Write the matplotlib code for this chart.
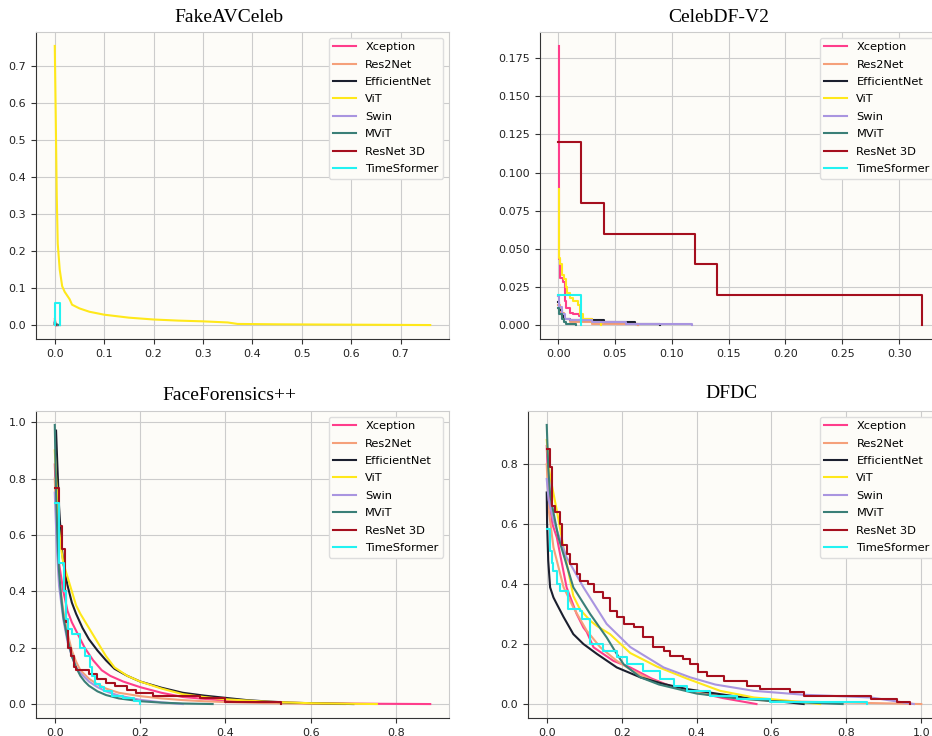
import matplotlib
matplotlib.use("Agg")
import matplotlib.pyplot as plt

models = ["Xception", "Res2Net", "EfficientNet", "ViT", "Swin", "MViT", "ResNet 3D", "TimeSformer"]
colors = ["#FF3D8B", "#F5A07A", "#1B1F2E", "#FFE81A", "#A995E0", "#3A7F77", "#A50F1E", "#22F2F2"]

# ---- FakeAVCeleb
fav_xception_x = [0.0, 0.002, 0.004]
fav_xception_y = [0.010, 0.004, 0.0]
fav_res2net_x = [0.0, 0.002, 0.004]
fav_res2net_y = [0.016, 0.006, 0.0]
fav_effnet_x = [0.0, 0.003, 0.006]
fav_effnet_y = [0.006, 0.002, 0.0]
fav_vit_x = [0.0, 0.002, 0.004, 0.006, 0.01, 0.015, 0.02, 0.03, 0.035, 0.05, 0.07, 0.1, 0.15,
             0.2, 0.25, 0.3, 0.35, 0.37, 0.45, 0.6, 0.76]
fav_vit_y = [0.755, 0.56, 0.35, 0.22, 0.15, 0.105, 0.09, 0.07, 0.055, 0.045, 0.036, 0.028, 0.02,
             0.015, 0.012, 0.01, 0.007, 0.003, 0.002, 0.001, 0.0]
fav_swin_x = [0.0, 0.002, 0.005]
fav_swin_y = [0.008, 0.003, 0.0]
fav_mvit_x = [0.0, 0.004, 0.01]
fav_mvit_y = [0.004, 0.001, 0.0]
fav_r3d_x = [0.0, 0.002]
fav_r3d_y = [0.002, 0.0]
fav_tsf_x = [0.0, 0.0, 0.01, 0.01]
fav_tsf_y = [0.0, 0.06, 0.06, 0.0]

# ---- CelebDF-V2
cdf_xception_x = [0.001, 0.001, 0.002, 0.004, 0.006, 0.007, 0.01, 0.013, 0.018, 0.02, 0.03, 0.05, 0.07]
cdf_xception_y = [0.183, 0.043, 0.031, 0.028, 0.016, 0.011, 0.008, 0.007, 0.006, 0.004, 0.002, 0.001, 0.0]
cdf_res2net_x = [0.0, 0.002, 0.005, 0.01, 0.03, 0.05, 0.07]
cdf_res2net_y = [0.013, 0.008, 0.004, 0.002, 0.001, 0.0005, 0.0]
cdf_effnet_x = [0.0, 0.001, 0.003, 0.005, 0.01, 0.03, 0.04, 0.065, 0.068, 0.09]
cdf_effnet_y = [0.015, 0.01, 0.006, 0.004, 0.003, 0.003, 0.002, 0.002, 0.001, 0.0]
cdf_vit_x = [0.001, 0.001, 0.002, 0.003, 0.005, 0.007, 0.008, 0.01, 0.013, 0.017, 0.019, 0.022, 0.03, 0.038]
cdf_vit_y = [0.089, 0.044, 0.04, 0.033, 0.03, 0.025, 0.021, 0.018, 0.016, 0.013, 0.007, 0.004, 0.002, 0.0]
cdf_swin_x = [0.0, 0.001, 0.003, 0.006, 0.01, 0.03, 0.06, 0.118]
cdf_swin_y = [0.019, 0.012, 0.007, 0.004, 0.003, 0.002, 0.001, 0.0]
cdf_mvit_x = [0.0, 0.001, 0.003, 0.005, 0.007, 0.016]
cdf_mvit_y = [0.011, 0.007, 0.004, 0.002, 0.001, 0.0]
cdf_r3d_x = [0.0, 0.02, 0.04, 0.12, 0.14, 0.32]
cdf_r3d_y = [0.12, 0.08, 0.06, 0.04, 0.02, 0.0]
cdf_tsf_x = [0.0, 0.02]
cdf_tsf_y = [0.02, 0.0]

# ---- FaceForensics++
ffp_xception_x = [0.0, 0.005, 0.01, 0.02, 0.03, 0.04, 0.05, 0.07, 0.09, 0.11, 0.13, 0.16, 0.2,
                  0.25, 0.3, 0.4, 0.5, 0.6, 0.75, 0.88]
ffp_xception_y = [0.85, 0.65, 0.5, 0.4, 0.33, 0.29, 0.26, 0.2, 0.155, 0.12, 0.1, 0.08, 0.06,
                  0.04, 0.025, 0.012, 0.006, 0.003, 0.001, 0.0]
ffp_res2net_x = [0.0, 0.005, 0.01, 0.02, 0.03, 0.04, 0.05, 0.06, 0.08, 0.1, 0.12, 0.15, 0.2,
                 0.25, 0.3, 0.35, 0.4, 0.5, 0.6, 0.68]
ffp_res2net_y = [0.8, 0.6, 0.45, 0.33, 0.25, 0.19, 0.15, 0.12, 0.09, 0.07, 0.055, 0.04, 0.028,
                 0.02, 0.014, 0.01, 0.007, 0.003, 0.001, 0.0]
ffp_effnet_x = [0.003, 0.006, 0.01, 0.015, 0.02, 0.03, 0.04, 0.05, 0.065, 0.08, 0.1, 0.12, 0.14,
                0.17, 0.2, 0.25, 0.3, 0.35, 0.4, 0.45, 0.5, 0.55, 0.6, 0.7]
ffp_effnet_y = [0.97, 0.85, 0.7, 0.58, 0.5, 0.42, 0.36, 0.32, 0.27, 0.23, 0.19, 0.155, 0.125,
                0.1, 0.08, 0.058, 0.04, 0.03, 0.022, 0.014, 0.009, 0.005, 0.003, 0.0]
ffp_vit_x = [0.0, 0.005, 0.01, 0.015, 0.02, 0.03, 0.04, 0.05, 0.06, 0.08, 0.1, 0.12, 0.14, 0.17,
             0.2, 0.25, 0.3, 0.35, 0.4, 0.5, 0.6, 0.7, 0.755]
ffp_vit_y = [0.9, 0.75, 0.62, 0.55, 0.5, 0.45, 0.4, 0.35, 0.32, 0.27, 0.22, 0.17, 0.13, 0.1,
             0.08, 0.055, 0.035, 0.025, 0.017, 0.008, 0.003, 0.001, 0.0]
ffp_swin_x = [0.0, 0.005, 0.01, 0.02, 0.03, 0.04, 0.05, 0.06, 0.08, 0.1, 0.12, 0.15, 0.2, 0.25, 0.3]
ffp_swin_y = [0.75, 0.55, 0.42, 0.3, 0.22, 0.17, 0.13, 0.11, 0.08, 0.06, 0.045, 0.03, 0.015, 0.006, 0.0]
ffp_mvit_x = [0.0, 0.003, 0.006, 0.01, 0.015, 0.02, 0.03, 0.04, 0.05, 0.06, 0.07, 0.08, 0.1,
              0.12, 0.15, 0.2, 0.25, 0.3, 0.37]
ffp_mvit_y = [0.99, 0.75, 0.6, 0.47, 0.38, 0.31, 0.23, 0.17, 0.13, 0.1, 0.08, 0.065, 0.045,
              0.032, 0.02, 0.01, 0.005, 0.002, 0.0]
ffp_r3d_x = [0.0, 0.009, 0.016, 0.023, 0.027, 0.032, 0.038, 0.045, 0.05, 0.08, 0.1, 0.12, 0.14,
             0.17, 0.19, 0.23, 0.34, 0.4, 0.53]
ffp_r3d_y = [0.765, 0.63, 0.55, 0.4, 0.29, 0.2, 0.17, 0.13, 0.12, 0.105, 0.09, 0.075, 0.065,
             0.05, 0.04, 0.03, 0.02, 0.008, 0.0]
ffp_tsf_x = [0.0, 0.009, 0.021, 0.027, 0.032, 0.04, 0.058, 0.07, 0.082, 0.088, 0.095, 0.105,
             0.115, 0.135, 0.16, 0.185, 0.2]
ffp_tsf_y = [0.714, 0.5, 0.4, 0.3, 0.265, 0.25, 0.2, 0.17, 0.13, 0.1, 0.07, 0.06, 0.045, 0.03,
             0.02, 0.01, 0.0]

# ---- DFDC
dfdc_xception_x = [0.0, 0.005, 0.015, 0.027, 0.053, 0.08, 0.098, 0.107, 0.125, 0.178, 0.223,
                   0.28, 0.33, 0.4, 0.47, 0.56]
dfdc_xception_y = [0.86, 0.7, 0.6, 0.555, 0.389, 0.3, 0.255, 0.24, 0.189, 0.144, 0.122, 0.085,
                   0.06, 0.04, 0.02, 0.0]
dfdc_res2net_x = [0.0, 0.005, 0.018, 0.045, 0.071, 0.107, 0.143, 0.187, 0.23, 0.28, 0.33, 0.4,
                  0.5, 0.6, 0.8, 1.0]
dfdc_res2net_y = [0.8, 0.65, 0.522, 0.389, 0.322, 0.244, 0.189, 0.144, 0.11, 0.08, 0.06, 0.04,
                  0.02, 0.01, 0.005, 0.0]
dfdc_effnet_x = [0.0, 0.001, 0.004, 0.009, 0.018, 0.027, 0.045, 0.071, 0.098, 0.134, 0.187, 0.25,
                 0.312, 0.374, 0.463, 0.553, 0.642, 0.686]
dfdc_effnet_y = [0.705, 0.6, 0.478, 0.389, 0.355, 0.333, 0.29, 0.233, 0.2, 0.167, 0.122, 0.089,
                 0.067, 0.05, 0.033, 0.017, 0.006, 0.0]
dfdc_vit_x = [0.0, 0.005, 0.009, 0.027, 0.045, 0.071, 0.089, 0.116, 0.134, 0.169, 0.223, 0.294,
              0.374, 0.463, 0.553, 0.686, 0.73]
dfdc_vit_y = [0.88, 0.8, 0.76, 0.644, 0.52, 0.36, 0.315, 0.278, 0.26, 0.233, 0.17, 0.125, 0.085,
              0.044, 0.022, 0.006, 0.0]
dfdc_swin_x = [0.0, 0.005, 0.018, 0.053, 0.098, 0.16, 0.223, 0.312, 0.383, 0.45, 0.553, 0.686,
               0.865, 0.98]
dfdc_swin_y = [0.75, 0.68, 0.611, 0.489, 0.389, 0.267, 0.19, 0.122, 0.089, 0.065, 0.044, 0.031,
               0.022, 0.0]
dfdc_mvit_x = [0.0, 0.004, 0.009, 0.013, 0.031, 0.071, 0.116, 0.16, 0.187, 0.205, 0.25, 0.3,
               0.35, 0.4, 0.5, 0.6, 0.79]
dfdc_mvit_y = [0.93, 0.79, 0.7, 0.67, 0.556, 0.389, 0.3, 0.222, 0.167, 0.133, 0.089, 0.065,
               0.05, 0.035, 0.02, 0.01, 0.0]
dfdc_r3d_x = [0.0, 0.009, 0.013, 0.022, 0.036, 0.04, 0.053, 0.062, 0.08, 0.089, 0.11, 0.125,
              0.15, 0.17, 0.187, 0.205, 0.232, 0.258, 0.285, 0.312, 0.33, 0.365, 0.383, 0.405,
              0.428, 0.472, 0.535, 0.57, 0.65, 0.686, 0.865, 0.936, 0.97]
dfdc_r3d_y = [0.85, 0.79, 0.66, 0.64, 0.6, 0.53, 0.5, 0.467, 0.433, 0.41, 0.4, 0.372, 0.355,
              0.31, 0.289, 0.267, 0.256, 0.222, 0.189, 0.178, 0.161, 0.15, 0.133, 0.106, 0.094,
              0.078, 0.061, 0.05, 0.039, 0.028, 0.017, 0.006, 0.0]
dfdc_tsf_x = [0.0, 0.009, 0.014, 0.018, 0.027, 0.036, 0.058, 0.089, 0.094, 0.116, 0.15, 0.187,
              0.214, 0.258, 0.303, 0.339, 0.374, 0.437, 0.508, 0.597, 0.856]
dfdc_tsf_y = [0.583, 0.51, 0.47, 0.444, 0.4, 0.378, 0.317, 0.311, 0.283, 0.2, 0.178, 0.156,
              0.133, 0.111, 0.083, 0.061, 0.044, 0.028, 0.017, 0.006, 0.0]

panels = [
    ("FakeAVCeleb", [(fav_xception_x, fav_xception_y, None), (fav_res2net_x, fav_res2net_y, None),
                     (fav_effnet_x, fav_effnet_y, None), (fav_vit_x, fav_vit_y, None),
                     (fav_swin_x, fav_swin_y, None), (fav_mvit_x, fav_mvit_y, None),
                     (fav_r3d_x, fav_r3d_y, None), (fav_tsf_x, fav_tsf_y, None)]),
    ("CelebDF-V2", [(cdf_xception_x, cdf_xception_y, "steps-post"), (cdf_res2net_x, cdf_res2net_y, "steps-post"),
                    (cdf_effnet_x, cdf_effnet_y, "steps-post"), (cdf_vit_x, cdf_vit_y, "steps-post"),
                    (cdf_swin_x, cdf_swin_y, "steps-post"), (cdf_mvit_x, cdf_mvit_y, "steps-post"),
                    (cdf_r3d_x, cdf_r3d_y, "steps-post"), (cdf_tsf_x, cdf_tsf_y, "steps-post")]),
    ("FaceForensics++", [(ffp_xception_x, ffp_xception_y, None), (ffp_res2net_x, ffp_res2net_y, None),
                         (ffp_effnet_x, ffp_effnet_y, None), (ffp_vit_x, ffp_vit_y, None),
                         (ffp_swin_x, ffp_swin_y, None), (ffp_mvit_x, ffp_mvit_y, None),
                         (ffp_r3d_x, ffp_r3d_y, "steps-post"), (ffp_tsf_x, ffp_tsf_y, "steps-post")]),
    ("DFDC", [(dfdc_xception_x, dfdc_xception_y, None), (dfdc_res2net_x, dfdc_res2net_y, None),
              (dfdc_effnet_x, dfdc_effnet_y, None), (dfdc_vit_x, dfdc_vit_y, None),
              (dfdc_swin_x, dfdc_swin_y, None), (dfdc_mvit_x, dfdc_mvit_y, None),
              (dfdc_r3d_x, dfdc_r3d_y, "steps-post"), (dfdc_tsf_x, dfdc_tsf_y, "steps-post")]),
]

W, H = 932, 736
fig = plt.figure(figsize=(W / 100, H / 100), dpi=100)

# axes boxes in pixels: left, top, right, bottom
boxes = [(36, 32, 449, 339), (540, 32, 940, 339), (36, 411, 449, 718), (528, 411, 940, 718)]
title_pos = [(229, 17), (719, 17), (229, 395), (731, 394)]
xticks = [[0, 0.1, 0.2, 0.3, 0.4, 0.5, 0.6, 0.7],
          [0, 0.05, 0.1, 0.15, 0.2, 0.25, 0.3],
          [0, 0.2, 0.4, 0.6, 0.8],
          [0, 0.2, 0.4, 0.6, 0.8, 1.0]]
xfmt = ["%.1f", "%.2f", "%.1f", "%.1f"]
yfmt = ["%.1f", "%.3f", "%.1f", "%.1f"]

for i, (title, curves) in enumerate(panels):
    l, t, r, b = boxes[i]
    ax = fig.add_axes([l / W, 1 - b / H, (r - l) / W, (b - t) / H])
    ax.set_facecolor("#FDFCF8")
    for (x, y, ds), name, c in zip(curves, models, colors):
        if ds:
            ax.plot(x, y, color=c, lw=1.5, label=name, drawstyle=ds)
        else:
            ax.plot(x, y, color=c, lw=1.5, label=name)
    ax.grid(True, color="#cccccc", lw=0.8)
    ax.set_axisbelow(True)
    ax.set_xticks(xticks[i])
    ax.xaxis.set_major_formatter(plt.FormatStrFormatter(xfmt[i]))
    ax.yaxis.set_major_formatter(plt.FormatStrFormatter(yfmt[i]))
    ax.tick_params(labelsize=8, length=3.5, color="#333333", labelcolor="#222222")
    for s in ["left", "bottom"]:
        ax.spines[s].set_color("#333333")
    for s in ["top", "right"]:
        ax.spines[s].set_color("#cccccc")
    leg = ax.legend(loc="upper right", fontsize=8.2, labelspacing=0.65, framealpha=1,
                    facecolor="#FDFCF8", edgecolor="#dddddd", fancybox=True)
    fig.text(title_pos[i][0] / W, 1 - title_pos[i][1] / H, title, ha="center", va="center",
             family="Liberation Serif", fontsize=14)

fig.savefig("out.png", dpi=100)
